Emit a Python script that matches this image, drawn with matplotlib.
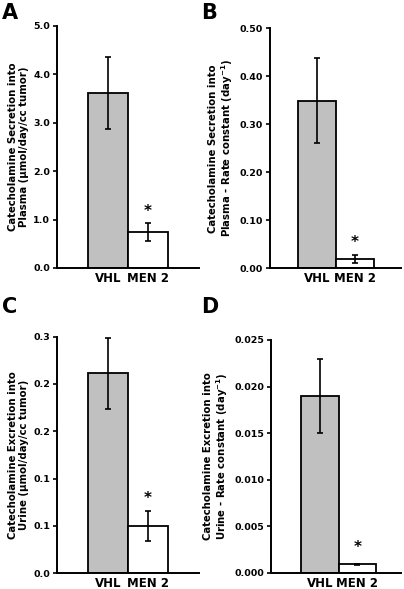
import matplotlib

matplotlib.use("Agg")
import matplotlib.pyplot as plt
import numpy as np
from matplotlib.ticker import FormatStrFormatter, MultipleLocator

plt.rcParams["font.family"] = ["DejaVu Sans"]
plt.rcParams["font.weight"] = "bold"

groups = ["VHL", "MEN 2"]

# panel A: secretion into plasma, umol/day/cc tumor
plasma_amount = [3.62, 0.74]
plasma_amount_err = [0.74, 0.19]
# panel B: secretion into plasma, rate constant
plasma_rate = [0.349, 0.019]
plasma_rate_err = [0.089, 0.009]
# panel C: excretion into urine, umol/day/cc tumor
urine_amount = [0.2535, 0.0604]
urine_amount_err = [0.0450, 0.0190]
# panel D: excretion into urine, rate constant
urine_rate = [0.0190, 0.0009]
urine_rate_err = [0.0040, 0.00008]

star_height = [1.16, 0.053, 0.095, 0.0027]

panels = [
    dict(letter="A", vals=plasma_amount, errs=plasma_amount_err,
         ylim=5.0, step=1.0, fmt="%.1f",
         ylabel="Catecholamine Secretion into\nPlasma (\u00b5mol/day/cc tumor)",
         pos=[0.141, 0.545, 0.352, 0.411], xlim=(-1.275, 2.275)),
    dict(letter="B", vals=plasma_rate, errs=plasma_rate_err,
         ylim=0.50, step=0.10, fmt="%.2f",
         ylabel="Catecholamine Secretion into\nPlasma - Rate constant (day$^{\\mathbf{-1}}$)",
         pos=[0.668, 0.5445, 0.325, 0.4075], xlim=(-1.24, 2.21)),
    dict(letter="C", vals=urine_amount, errs=urine_amount_err,
         ylim=0.30, step=0.06, fmt="%.1f",
         ylabel="Catecholamine Excretion into\nUrine (\u00b5mol/day/cc tumor)",
         pos=[0.141, 0.0267, 0.352, 0.4017], xlim=(-1.275, 2.275)),
    dict(letter="D", vals=urine_rate, errs=urine_rate_err,
         ylim=0.025, step=0.005, fmt="%.3f",
         ylabel="Catecholamine Excretion into\nUrine - Rate constant (day$^{\\mathbf{-1}}$)",
         pos=[0.671, 0.0277, 0.322, 0.3951], xlim=(-1.3, 2.17)),
]

letter_pos = [(0.005, 0.995), (0.497, 0.995), (0.005, 0.495), (0.497, 0.495)]

fig = plt.figure(figsize=(4.04, 5.89), dpi=100)

for i, p in enumerate(panels):
    ax = fig.add_axes(p["pos"])
    x = np.arange(len(groups))
    ax.bar(x, p["vals"], width=1.0, color=["#c0c0c0", "white"],
           edgecolor="black", linewidth=1.3, zorder=2)
    ax.errorbar(x, p["vals"], yerr=p["errs"], fmt="none", ecolor="black",
                elinewidth=1.2, capsize=2.2, capthick=1.2, zorder=3)
    ax.text(1, star_height[i], "*", ha="center", va="center",
            fontsize=11, fontweight="bold")

    ax.set_xlim(*p["xlim"])
    ax.set_ylim(0, p["ylim"])
    ax.yaxis.set_major_locator(MultipleLocator(p["step"]))
    ax.yaxis.set_major_formatter(FormatStrFormatter(p["fmt"]))
    ax.set_xticks(x)
    ax.set_xticklabels(groups, fontsize=8.5, fontweight="bold")
    ax.tick_params(axis="x", length=0, pad=3)
    ax.tick_params(axis="y", direction="out", length=3, width=1.2,
                   labelsize=6.8, pad=2)
    for lbl in ax.get_yticklabels():
        lbl.set_fontweight("bold")

    for side in ("top", "right"):
        ax.spines[side].set_visible(False)
    for side in ("left", "bottom"):
        ax.spines[side].set_linewidth(1.4)

    ax.set_ylabel(p["ylabel"], fontsize=7.3, fontweight="bold", labelpad=3,
                  linespacing=1.15)

    fig.text(letter_pos[i][0], letter_pos[i][1], p["letter"], fontsize=15,
             fontweight="bold", ha="left", va="top")

fig.savefig("out.png", dpi=100)
